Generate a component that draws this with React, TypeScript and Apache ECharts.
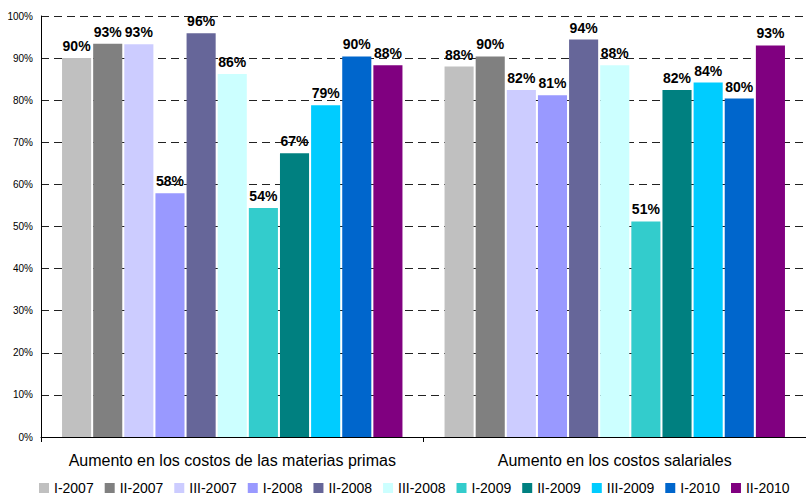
import React, { useEffect, useRef } from "react";
import * as echarts from "echarts";

const categories = ["Aumento en los costos de las materias primas", "Aumento en los costos salariales"];
const seriesNames = ["I-2007", "II-2007", "III-2007", "I-2008", "II-2008", "III-2008", "I-2009", "II-2009", "III-2009", "I-2010", "II-2010"];
const seriesColors = ["#C0C0C0", "#808080", "#CCCCFF", "#9999FF", "#666699", "#CCFFFF", "#33CCCC", "#008080", "#00CCFF", "#0066CC", "#800080"];
// values per series: [materias primas, salariales]
const seriesValues = [
  [90.0, 88.0],
  [93.4, 90.4],
  [93.3, 82.4],
  [57.9, 81.2],
  [95.9, 94.4],
  [86.2, 88.3],
  [54.4, 51.2],
  [67.4, 82.4],
  [78.8, 84.2],
  [90.4, 80.4],
  [88.3, 93.0],
];
const yTicks = [0, 10, 20, 30, 40, 50, 60, 70, 80, 90, 100];

export default function App() {
  const ref = useRef<HTMLDivElement>(null);
  useEffect(() => {
    if (!ref.current) return;
    const chart = echarts.init(ref.current, undefined, { renderer: "svg" });
    const font = "'Liberation Sans', Arial, sans-serif";
    chart.setOption({
      animation: false,
      textStyle: { fontFamily: font },
      grid: { left: 41, right: 0, top: 16, bottom: 63, containLabel: false },
      legend: {
        bottom: 0,
        left: 34,
        itemWidth: 10,
        itemHeight: 10,
        itemGap: 11,
        icon: "rect",
        textStyle: { fontSize: 14, color: "#000", fontFamily: font },
        data: seriesNames,
      },
      xAxis: {
        type: "category",
        data: categories,
        axisLine: { lineStyle: { color: "#000", width: 1 } },
        axisTick: { show: true, alignWithLabel: false, length: 5, lineStyle: { color: "#000" } },
        axisLabel: { fontSize: 16, color: "#000", margin: 15, fontFamily: font, interval: 0 },
      },
      yAxis: {
        type: "value",
        min: 0,
        max: 100,
        interval: 10,
        axisLine: { show: true, lineStyle: { color: "#000" } },
        axisTick: { show: false },
        axisLabel: {
          fontSize: 10,
          color: "#000",
          margin: 8,
          fontFamily: font,
          formatter: (v: number) => (yTicks.includes(v) ? v + "%" : ""),
        },
        splitLine: { show: true, lineStyle: { color: "#222", type: [8, 5], width: 1 } },
      },
      series: seriesNames.map((name, i) => ({
        name,
        type: "bar",
        data: seriesValues[i],
        barCategoryGap: "11%",
        barGap: "7%",
        itemStyle: { color: seriesColors[i] },
        label: {
          show: true,
          position: "top",
          distance: 5,
          fontSize: 14,
          fontWeight: "bold",
          color: "#000",
          fontFamily: font,
          formatter: (p: any) => Math.round(p.value) + "%",
        },
      })),
    });
    return () => chart.dispose();
  }, []);
  return <div ref={ref} style={{ width: 806, height: 500, position: "absolute", left: 0, top: 0, background: "#fff" }} />;
}
